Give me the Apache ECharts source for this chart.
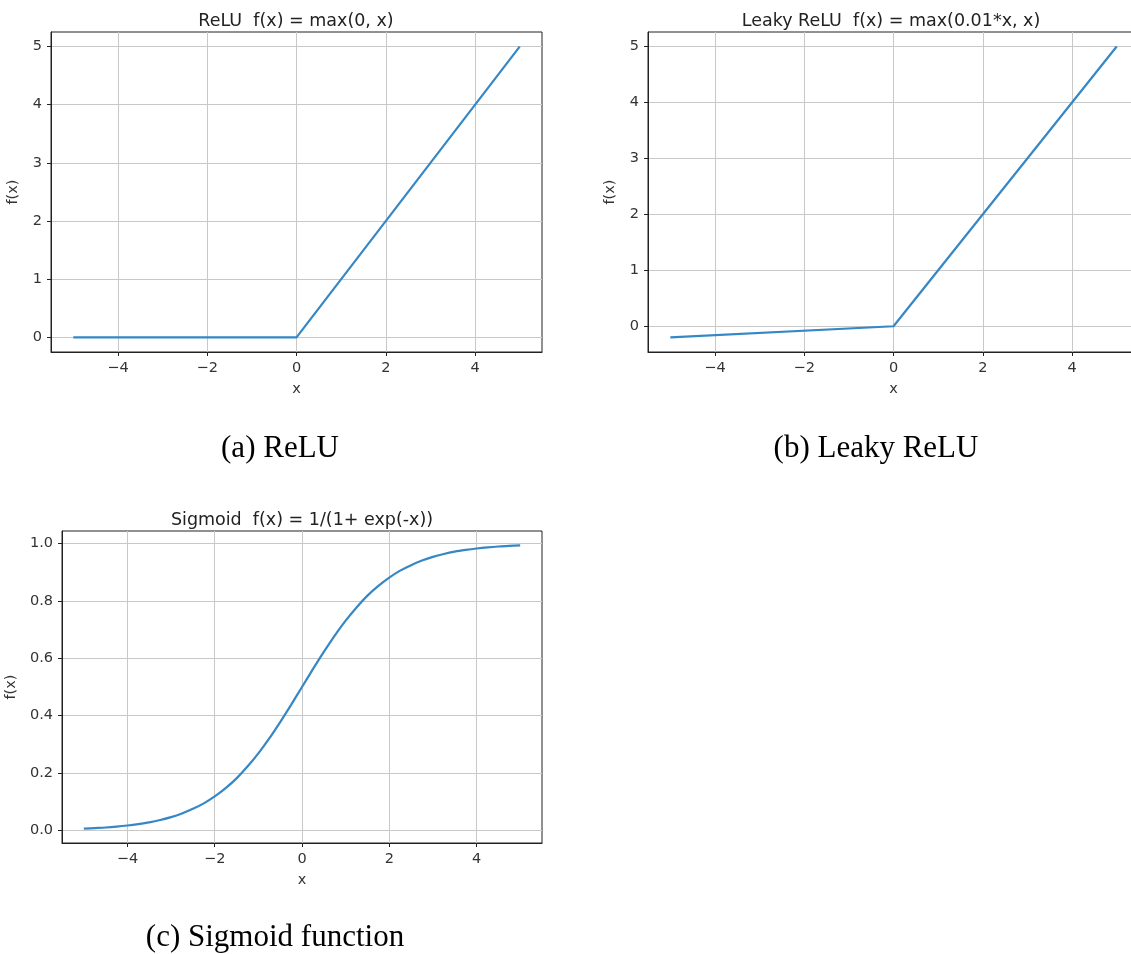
<!DOCTYPE html>
<html>
<head>
<meta charset="utf-8">
<script src="https://cdn.jsdelivr.net/npm/echarts@6/dist/echarts.min.js"></script>
<style>
  html, body { margin: 0; padding: 0; background: #fff; }
  #chart { width: 1131px; height: 954px; }
</style>
</head>
<body>
<div id="chart"></div>
<script>
// values
var reluX = [-5, 0, 5]
var reluY = [0, 0, 5]
var leakyX = [-5, 0, 5]
var leakyY = [-0.2, 0, 5]
var sigX = [-5, -4.75, -4.5, -4.25, -4, -3.75, -3.5, -3.25, -3, -2.75, -2.5, -2.25, -2, -1.75, -1.5, -1.25, -1, -0.75, -0.5, -0.25,
  0, 0.25, 0.5, 0.75, 1, 1.25, 1.5, 1.75, 2, 2.25, 2.5, 2.75, 3, 3.25, 3.5, 3.75, 4, 4.25, 4.5, 4.75, 5]
var sigY = [0.007, 0.009, 0.011, 0.014, 0.018, 0.023, 0.029, 0.037, 0.047, 0.06, 0.076, 0.095, 0.119, 0.148, 0.182, 0.223, 0.269, 0.321, 0.378, 0.438,
  0.5, 0.562, 0.622, 0.679, 0.731, 0.777, 0.818, 0.852, 0.881, 0.905, 0.924, 0.94, 0.953, 0.963, 0.971, 0.977, 0.982, 0.986, 0.989, 0.991, 0.993]
var xTicks = [-4, -2, 0, 2, 4]
var reluTicks = [0, 1, 2, 3, 4, 5]
var sigTicks = [0, 0.2, 0.4, 0.6, 0.8, 1.0]
var titles = ['ReLU  f(x) = max(0, x)', 'Leaky ReLU  f(x) = max(0.01*x, x)', 'Sigmoid  f(x) = 1/(1+ exp(-x))']
var captions = ['(a) ReLU', '(b) Leaky ReLU', '(c) Sigmoid function']

function pairs(xs, ys) {
  return xs.map(function (x, i) { return [x, ys[i]] })
}

var font = 'DejaVu Sans'
var lineColor = '#3587c5'
var tickSize = 14.5

function xAxis(idx, ticks) {
  return {
    type: 'value', gridIndex: idx, min: -5.5, max: 5.5,
    name: 'x', nameLocation: 'middle', nameGap: 30,
    nameTextStyle: { fontFamily: font, fontSize: tickSize, color: '#333' },
    axisLine: { onZero: false, lineStyle: { color: '#222', width: 1 } },
    axisTick: { show: true, length: 4, customValues: ticks, lineStyle: { color: '#222' } },
    axisLabel: { customValues: ticks, margin: 9, fontFamily: font, fontSize: tickSize, color: '#333',
      formatter: function (v) { return v < 0 ? '\u2212' + (-v) : String(v) } },
    splitLine: { show: true, lineStyle: { color: '#c8c8c8', width: 1 } }
  }
}

function yAxis(idx, min, max, ticks, digits, gap) {
  return {
    type: 'value', gridIndex: idx, min: min, max: max,
    name: 'f(x)', nameLocation: 'middle', nameGap: gap,
    nameTextStyle: { fontFamily: font, fontSize: tickSize, color: '#333' },
    axisLine: { show: true, onZero: false, lineStyle: { color: '#222', width: 1 } },
    axisTick: { show: true, length: 4, customValues: ticks, lineStyle: { color: '#222' } },
    axisLabel: { customValues: ticks, margin: 9, fontFamily: font, fontSize: tickSize, color: '#333',
      formatter: function (v) { return v.toFixed(digits) } },
    splitLine: { show: true, lineStyle: { color: '#c8c8c8', width: 1 } }
  }
}

function line(idx, data, smooth) {
  return {
    type: 'line', xAxisIndex: idx, yAxisIndex: idx, data: data,
    showSymbol: false, smooth: smooth ? 0.3 : false,
    lineStyle: { color: lineColor, width: 2.2 }
  }
}

var titleStyle = { fontFamily: font, fontSize: 17.5, fontWeight: 'normal', color: '#222' }
var capStyle = { fontFamily: 'Liberation Serif', fontSize: 31, fontWeight: 'normal', color: '#000' }

var myChart = echarts.init(document.getElementById('chart'))
var option = {
  backgroundColor: '#fff',
  animation: false,
  title: [
    { text: titles[0], left: 291, top: 7, textAlign: 'center', textStyle: titleStyle },
    { text: titles[1], left: 886, top: 7, textAlign: 'center', textStyle: titleStyle },
    { text: titles[2], left: 297, top: 506, textAlign: 'center', textStyle: titleStyle },
    { text: captions[0], left: 275, top: 428, textAlign: 'center', textStyle: capStyle },
    { text: captions[1], left: 871, top: 428, textAlign: 'center', textStyle: capStyle },
    { text: captions[2], left: 270, top: 917, textAlign: 'center', textStyle: capStyle }
  ],
  grid: [
    { left: 51, top: 32, width: 491, height: 320, show: true, borderColor: '#222', borderWidth: 1, outerBoundsMode: 'none' },
    { left: 648, top: 32, width: 491, height: 320, show: true, borderColor: '#222', borderWidth: 1, outerBoundsMode: 'none' },
    { left: 62, top: 531, width: 480, height: 312, show: true, borderColor: '#222', borderWidth: 1, outerBoundsMode: 'none' }
  ],
  xAxis: [xAxis(0, xTicks), xAxis(1, xTicks), xAxis(2, xTicks)],
  yAxis: [
    yAxis(0, -0.25, 5.25, reluTicks, 0, 30),
    yAxis(1, -0.46, 5.26, reluTicks, 0, 30),
    yAxis(2, -0.043, 1.043, sigTicks, 1, 43)
  ],
  series: [
    line(0, pairs(reluX, reluY), false),
    line(1, pairs(leakyX, leakyY), false),
    line(2, pairs(sigX, sigY), true)
  ]
}
myChart.setOption(option)
</script>
</body>
</html>
